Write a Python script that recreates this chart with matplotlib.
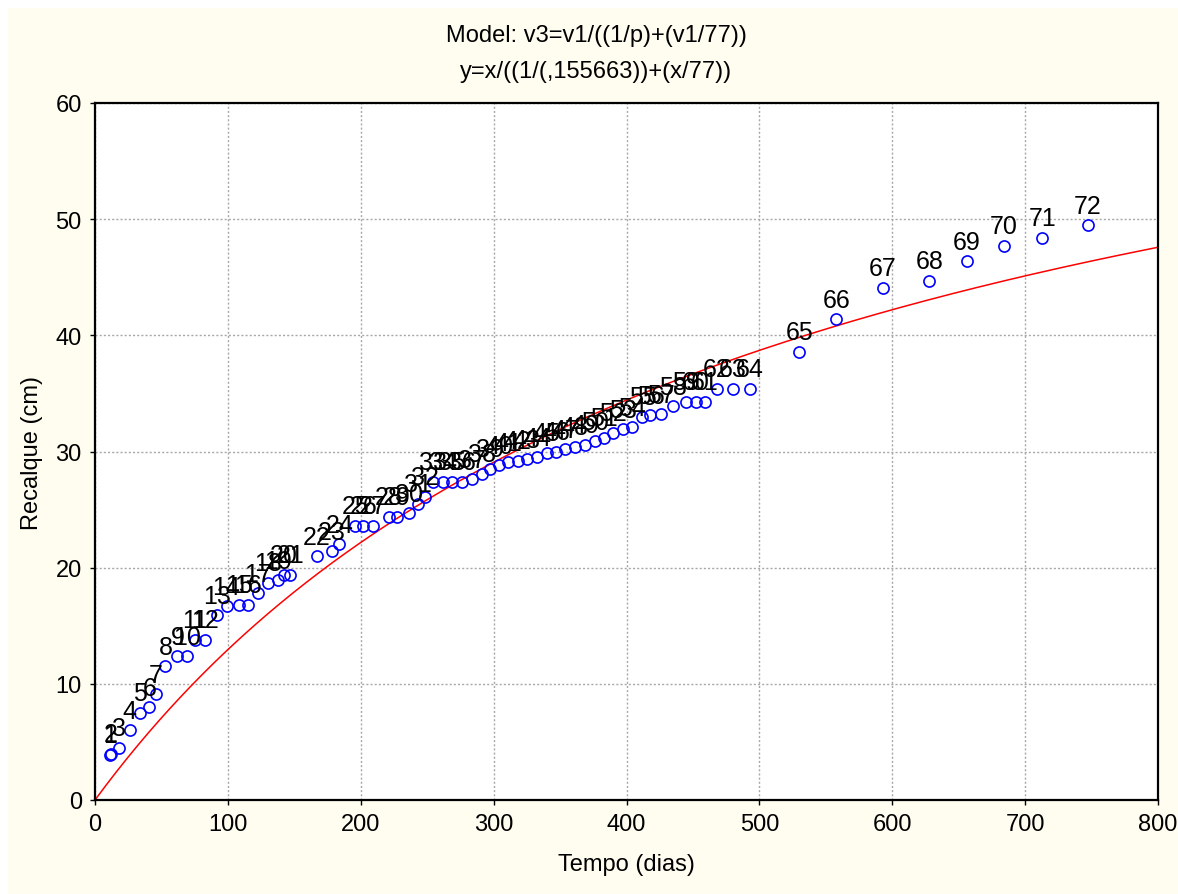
import numpy as np
import matplotlib
matplotlib.use("Agg")
import matplotlib.pyplot as plt
from matplotlib.patches import Rectangle

plt.rcParams['font.family'] = ['Liberation Sans', 'DejaVu Sans']

# --- data ---
point_ids = list(range(1, 73))
tempo_dias = [11, 12, 18, 26, 34, 41, 46, 53, 62, 69,
              75, 83, 92, 99, 108, 115, 123, 130, 138, 142,
              147, 167, 178, 184, 196, 202, 209, 221, 227, 236,
              243, 248, 254, 262, 269, 276, 284, 291, 297, 304,
              311, 318, 325, 333, 340, 347, 354, 361, 369, 376,
              383, 390, 397, 404, 412, 418, 426, 435, 445, 452,
              459, 468, 480, 493, 530, 558, 593, 628, 656, 684,
              713, 747]
recalque_cm = [3.9, 4.0, 4.5, 6.0, 7.5, 8.0, 9.1, 11.5, 12.4, 12.4,
               13.8, 13.8, 15.9, 16.7, 16.8, 16.8, 17.8, 18.7, 18.9, 19.4,
               19.4, 21.0, 21.4, 22.0, 23.6, 23.6, 23.6, 24.4, 24.4, 24.7,
               25.5, 26.1, 27.4, 27.4, 27.4, 27.4, 27.6, 28.1, 28.5, 28.8,
               29.1, 29.2, 29.35, 29.5, 29.9, 30.0, 30.2, 30.4, 30.6, 30.9,
               31.2, 31.6, 31.9, 32.1, 33.0, 33.1, 33.2, 33.9, 34.3, 34.3,
               34.3, 35.4, 35.4, 35.4, 38.6, 41.4, 44.1, 44.7, 46.4, 47.7,
               48.4, 49.5]
model_p = 0.155663
model_k = 77.0
x_ticks = [0, 100, 200, 300, 400, 500, 600, 700, 800]
y_ticks = [0, 10, 20, 30, 40, 50, 60]
title_1 = "Model: v3=v1/((1/p)+(v1/77))"
title_2 = "y=x/((1/(,155663))+(x/77))"

W, H = 1178, 895
fig = plt.figure(figsize=(W / 100, H / 100), dpi=100)
fig.patch.set_facecolor('white')
fig.patches.append(Rectangle((8 / W, 0), 1, (H - 9) / H, transform=fig.transFigure,
                             facecolor='#fffdf0', edgecolor='none', zorder=-10))

ax = fig.add_axes([95 / W, 94 / H, 1063 / W, 697 / H])
ax.set_facecolor('white')

x_fit = np.linspace(0, 800, 500)
y_fit = x_fit / ((1 / model_p) + (x_fit / model_k))
ax.plot(x_fit, y_fit, color='red', lw=1.1, zorder=2)

ax.plot(tempo_dias, recalque_cm, linestyle='none', marker='o', markersize=8,
        markerfacecolor='none', markeredgecolor='#0000ff', markeredgewidth=1.2, zorder=3)

for pid, xv, yv in zip(point_ids, tempo_dias, recalque_cm):
    ax.annotate(str(pid), (xv, yv), xytext=(0, 14), textcoords='offset points',
                ha='center', va='center', fontsize=18, color='black', zorder=4)

ax.set_xlim(0, 800)
ax.set_ylim(0, 60)
ax.set_xticks(x_ticks)
ax.set_yticks(y_ticks)
ax.tick_params(direction='out', length=3.5, width=1, labelsize=17, pad=6, colors='black')
ax.grid(True, color='#a8a8a8', linestyle=(0, (1.5, 1.5)), linewidth=1.0)
ax.set_axisbelow(True)
for s in ax.spines.values():
    s.set_color('black')
    s.set_linewidth(1.6)

ax.set_xlabel("Tempo (dias)", fontsize=17, labelpad=13)
ax.set_ylabel("Recalque (cm)", fontsize=17, labelpad=9)

fig.text(596 / W, 1 - 36 / H, title_1, ha='center', va='center', fontsize=17)
fig.text(596 / W, 1 - 72 / H, title_2, ha='center', va='center', fontsize=17)

fig.savefig("out.png", dpi=100, facecolor=fig.get_facecolor())
